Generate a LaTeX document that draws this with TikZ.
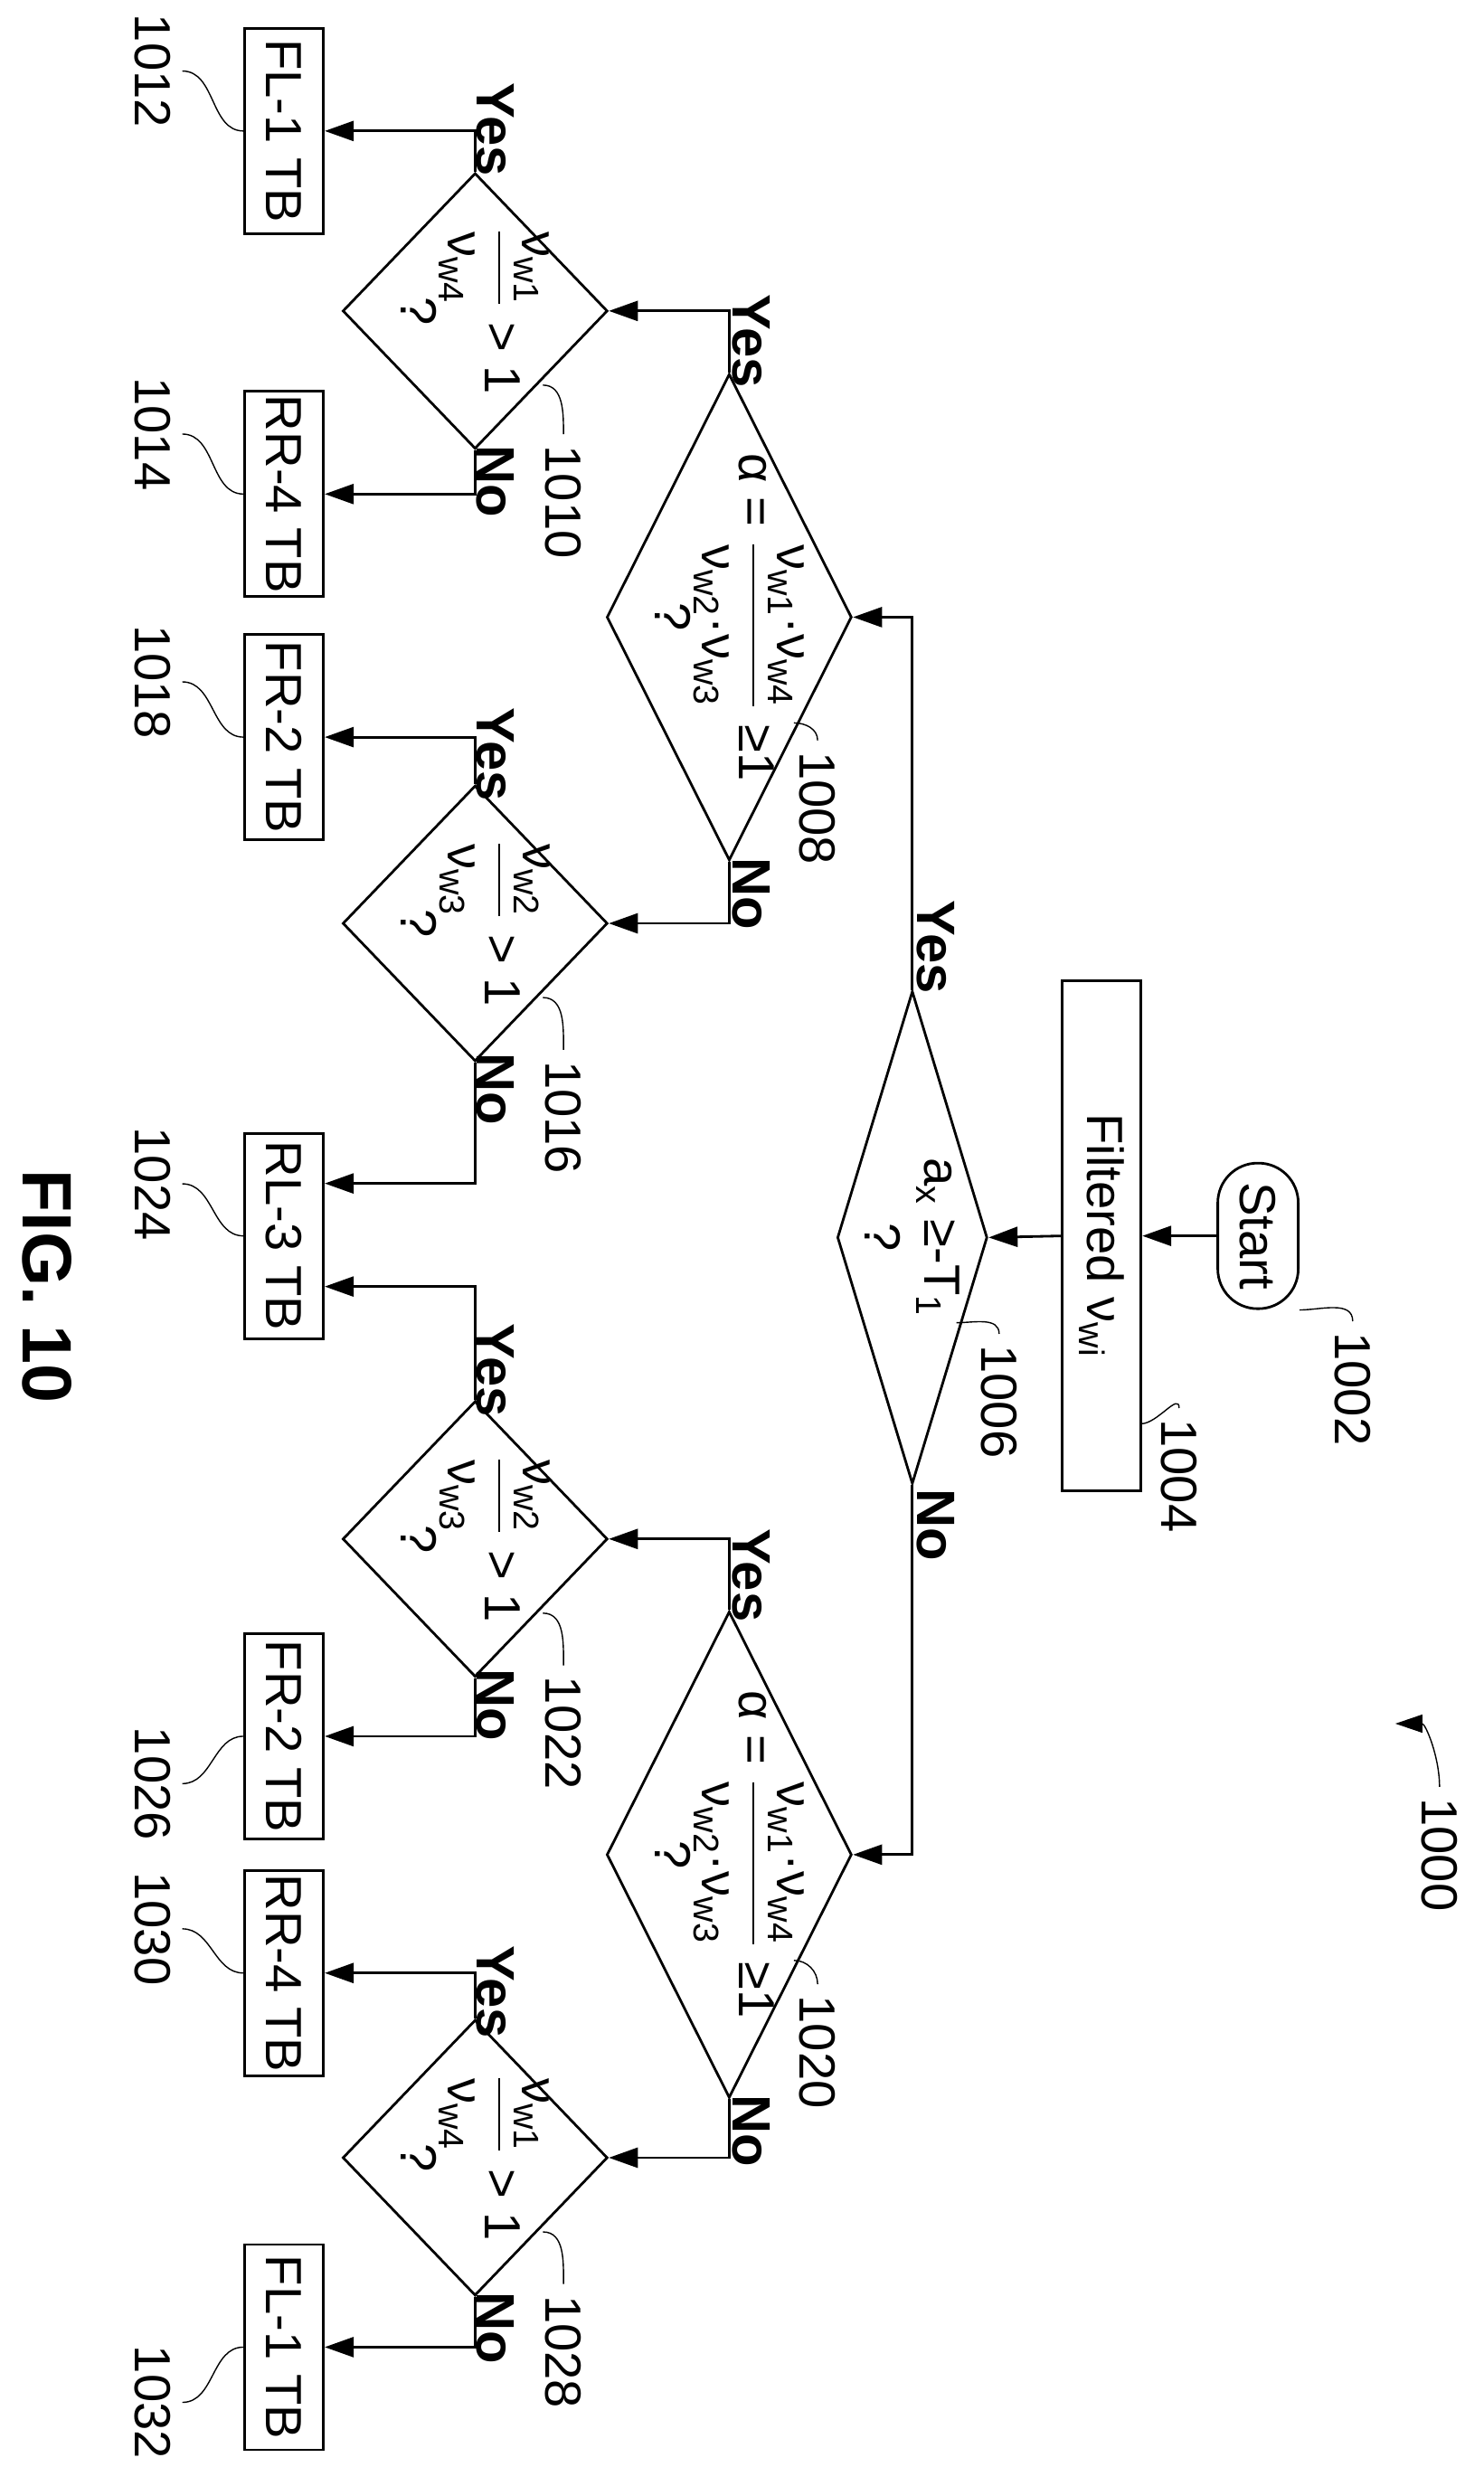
\documentclass[tikz,border=0pt]{standalone}
\usepackage{amsmath}
\usepackage{fontspec}
\setmainfont{Liberation Sans}
\usetikzlibrary{shapes.geometric,arrows.meta,calc}

\newcommand{\vw}[1]{ν\textsubscript{w#1}}
\newcommand{\ratio}[2]{$\dfrac{\text{#1}}{\text{#2}}$}

\tikzset{
  every node/.style={rotate=-90, font=\fontsize{16}{19}\selectfont},
  proc/.style={draw, thick, rectangle, inner sep=0pt},
  test/.style={draw, thick, diamond, inner sep=0pt},
  yn/.style={font=\fontsize{17}{20}\selectfont\bfseries},
  arr/.style={thick, -{Triangle[length=3.2mm,width=2.2mm]}},
  lead/.style={thin}
}

\begin{document}
\begin{tikzpicture}[x=0.017457cm, y=-0.017457cm]
    \useasboundingbox (0,0) rectangle (940,1575);
    % Start and filtering
    \node[proc, rounded corners=4.4mm, minimum width=1.61cm, minimum height=0.89cm] (start) at (797,783) {Start};
    \node[proc, minimum width=5.64cm, minimum height=0.87cm] (filt) at (698,783) {Filtered \vw{i}};
    \node[test, minimum width=5.45cm, minimum height=1.66cm] (d1006) at (578,784) {};
    \node[align=center] at (d1006) {a\textsubscript{x} ≥-T\textsubscript{1}\\?};
    % Second level tests
    \node[test, minimum width=5.38cm, minimum height=2.71cm] (d1008) at (462,391) {};
    \node[align=center] at (d1008) {α = \ratio{\vw1·\vw4}{\vw2·\vw3} ≥1\\?};
    \node[test, minimum width=5.38cm, minimum height=2.71cm] (d1020) at (462,1175) {};
    \node[align=center] at (d1020) {α = \ratio{\vw1·\vw4}{\vw2·\vw3} ≥1\\?};
    % Third level tests
    \node[test, minimum width=3.05cm, minimum height=2.93cm] (d1010) at (301,197) {};
    \node[align=center] at (d1010) {\ratio{\vw1}{\vw4} > 1\\?};
    \node[test, minimum width=3.05cm, minimum height=2.93cm] (d1016) at (301,585) {};
    \node[align=center] at (d1016) {\ratio{\vw2}{\vw3} > 1\\?};
    \node[test, minimum width=3.05cm, minimum height=2.93cm] (d1022) at (301,975) {};
    \node[align=center] at (d1022) {\ratio{\vw2}{\vw3} > 1\\?};
    \node[test, minimum width=3.05cm, minimum height=2.93cm] (d1028) at (301,1367) {};
    \node[align=center] at (d1028) {\ratio{\vw1}{\vw4} > 1\\?};
    % Result boxes
    \node[proc, minimum width=2.27cm, minimum height=0.87cm] (b1012) at (180,83) {FL-1 TB};
    \node[proc, minimum width=2.27cm, minimum height=0.87cm] (b1014) at (180,313) {RR-4 TB};
    \node[proc, minimum width=2.27cm, minimum height=0.87cm] (b1018) at (180,467) {FR-2 TB};
    \node[proc, minimum width=2.27cm, minimum height=0.87cm] (b1024) at (180,783) {RL-3 TB};
    \node[proc, minimum width=2.27cm, minimum height=0.87cm] (b1026) at (180,1100) {FR-2 TB};
    \node[proc, minimum width=2.27cm, minimum height=0.87cm] (b1030) at (180,1250) {RR-4 TB};
    \node[proc, minimum width=2.27cm, minimum height=0.87cm] (b1032) at (180,1487) {FL-1 TB};
    % Flow
    \draw[arr] (start.south) -- (filt.north);
    \draw[arr] (filt.south) -- (d1006.north);
    \draw[arr] (d1006.west) |- (d1008.north);
    \draw[arr] (d1006.east) |- (d1020.north);
    \draw[arr] (d1008.west) |- (d1010.north);
    \draw[arr] (d1008.east) |- (d1016.north);
    \draw[arr] (d1020.west) |- (d1022.north);
    \draw[arr] (d1020.east) |- (d1028.north);
    \draw[arr] (d1010.west) |- (b1012.north);
    \draw[arr] (d1010.east) |- (b1014.north);
    \draw[arr] (d1016.west) |- (b1018.north);
    \draw[arr] (d1016.east) |- ([yshift=5.8mm]b1024.north);
    \draw[arr] (d1022.west) |- ([yshift=-5.6mm]b1024.north);
    \draw[arr] (d1022.east) |- (b1026.north);
    \draw[arr] (d1028.west) |- (b1030.north);
    \draw[arr] (d1028.east) |- (b1032.north);
    % Yes / No
    \node[yn] at (593,600) {Yes};
    \node[yn] at (593,966) {No};
    \node[yn] at (476,216) {Yes};
    \node[yn] at (476,566) {No};
    \node[yn] at (476,998) {Yes};
    \node[yn] at (476,1350) {No};
    \foreach \y/\t in {82/Yes,305/No,478/Yes,690/No,868/Yes,1080/No,1262/Yes,1475/No}
      \node[yn] at (314,\y) {\t};
    % Reference numerals
    \node (r1002) at (857,880) {1002};
    \node (r1004) at (747,935) {1004};
    \node (r1006) at (633,888) {1006};
    \node (r1008) at (518,512) {1008};
    \node (r1020) at (518,1300) {1020};
    \node (r1010) at (357,318) {1010};
    \node (r1016) at (357,708) {1016};
    \node (r1022) at (357,1098) {1022};
    \node (r1028) at (357,1490) {1028};
    \draw[lead] (start.north east) to[out=0,in=90] (r1002.west);
    \draw[lead] (723,902) to[out=0,in=90] (r1004.west);
    \draw[lead] (606,838) to[out=0,in=90] (r1006.west);
    \draw[lead] (503,458) to[out=0,in=90] (r1008.west);
    \draw[lead] (503,1242) to[out=0,in=90] (r1020.west);
    \draw[lead] (344,244) to[out=0,in=90] (r1010.west);
    \draw[lead] (344,632) to[out=0,in=90] (r1016.west);
    \draw[lead] (344,1022) to[out=0,in=90] (r1022.west);
    \draw[lead] (344,1414) to[out=0,in=90] (r1028.west);
    \foreach \b/\y in {1012/45,1014/275,1018/432,1024/750,1026/1130,1030/1222,1032/1522} {
      \node (r\b) at (97,\y) {\b};
      \draw[lead] (b\b.south) to[out=180,in=0] (r\b.north);
    }
    \node (r1000) at (912,1175) {1000};
    \draw[thin, -{Triangle[length=3mm,width=2mm]}] (r1000.west) to[out=90,in=0] (884,1092);
    \node[font=\fontsize{22}{26}\selectfont\bfseries] (fig) at (30,815) {FIG. 10};
\end{tikzpicture}
\end{document}
